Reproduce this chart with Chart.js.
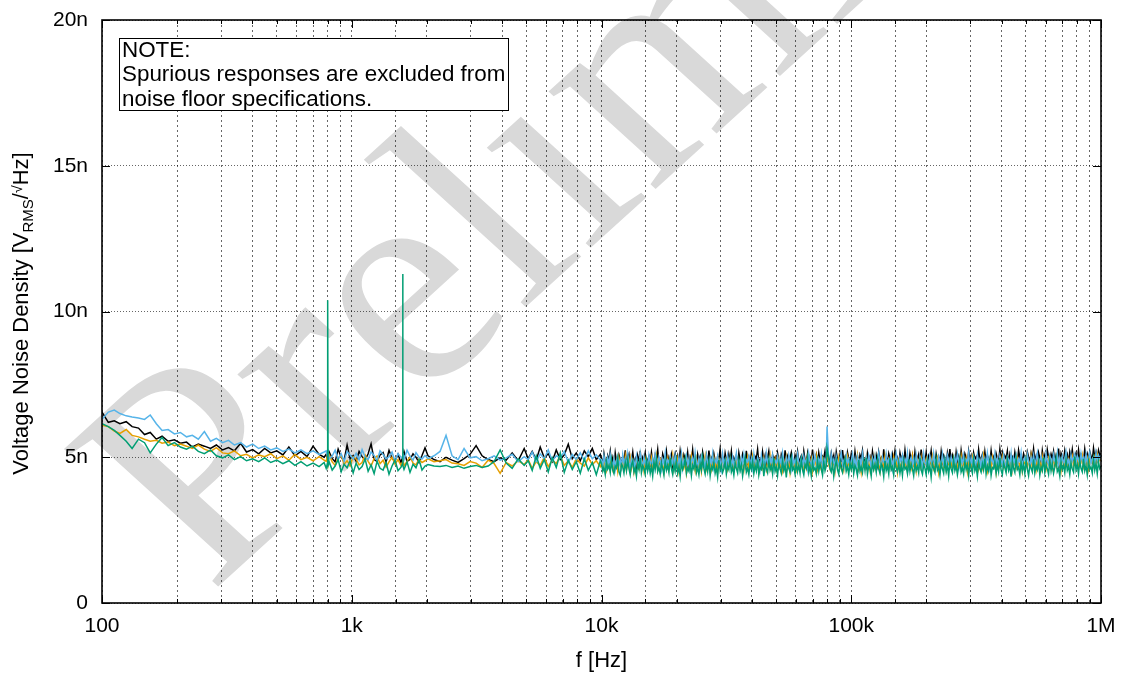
<!DOCTYPE html>
<html><head><meta charset="utf-8">
<script src="https://cdn.jsdelivr.net/npm/chart.js@4.4.1/dist/chart.umd.min.js"></script>
<style>html,body{margin:0;padding:0;background:#fff}#wrap{width:1123px;height:674px}</style>
</head><body><div id="wrap"><canvas id="c" width="1123" height="674"></canvas></div>
<script>
// Frequencies [Hz]
const FREQ = [
 // 100 Hz - 800 Hz
 100,106,112,118,125,132,140,148,156,165,174,184,195,206,218,230,243,257,272,287,
 304,321,339,359,379,401,424,448,474,501,530,560,592,626,662,700,740,775,
 // 800 Hz - 2 kHz
 790,798,801,804,812,835,858,882,907,932,958,985,1013,1041,1070,1100,1131,1163,1195,1229,
 1263,1298,1335,1372,1410,1450,1490,1532,1575,1597,1600,1603,1619,1665,1711,1759,1808,1859,1911,1965,
 // 2 kHz - 10 kHz
 2020,2135,2257,2385,2521,2665,2817,2977,3147,3326,3516,3716,3928,4152,4389,4639,4903,
 5088,5279,5478,5684,5898,6120,6350,6589,6837,7094,7361,7638,7925,8223,8533,8854,9187,9532,9891,
 // 10 kHz - 100 kHz
 10000,10120,10230,10350,10470,10590,10720,10840,10960,11090,11220,11350,11480,11610,11750,11890,12020,12160,12300,12450,
 12590,12740,12880,13030,13180,13340,13490,13650,13800,13960,14130,14290,14450,14620,14790,14960,15140,15310,15490,15670,
 15850,16030,16220,16410,16600,16790,16980,17180,17380,17580,17780,17990,18200,18410,18620,18840,19050,19280,19500,19720,
 19950,20180,20420,20650,20890,21130,21380,21630,21880,22130,22390,22650,22910,23170,23440,23710,23990,24270,24550,24830,
 25120,25410,25700,26000,26300,26610,26920,27230,27540,27860,28180,28510,28840,29170,29510,29850,30200,30550,30900,31260,
 31620,31990,32360,32730,33110,33500,33880,34280,34670,35080,35480,35890,36310,36730,37150,37580,38020,38460,38900,39360,
 39810,40270,40740,41210,41690,42170,42660,43150,43650,44160,44670,45190,45710,46240,46770,47320,47860,48420,48980,49550,
 50120,50700,51290,51880,52480,53090,53700,54330,54950,55590,56230,56890,57540,58210,58880,59570,60260,60950,61660,62370,
 63100,63830,64570,65310,66070,66830,67610,68390,69180,69980,70790,71610,72440,73280,74130,74990,75860,76740,77620,78520,
 79430,80000,81280,82220,83180,84140,85110,86100,87100,88100,89130,90160,91200,92260,93330,94410,95500,96610,97720,98860,
 // 100 kHz - 1 MHz
 100000,101200,102300,103500,104700,105900,107200,108400,109600,110900,112200,113500,114800,116100,117500,118900,120200,121600,123000,124500,
 125900,127400,128800,130300,131800,133400,134900,136500,138000,139600,141300,142900,144500,146200,147900,149600,151400,153100,154900,156700,
 158500,160300,162200,164100,166000,167900,169800,171800,173800,175800,177800,179900,182000,184100,186200,188400,190500,192800,195000,197200,
 199500,201800,204200,206500,208900,211300,213800,216300,218800,221300,223900,226500,229100,231700,234400,237100,239900,242700,245500,248300,
 251200,254100,257000,260000,263000,266100,269200,272300,275400,278600,281800,285100,288400,291700,295100,298500,302000,305500,309000,312600,
 316200,319900,323600,327300,331100,335000,338800,342800,346700,350800,354800,358900,363100,367300,371500,375800,380200,384600,389000,393600,
 398100,402700,407400,412100,416900,421700,426600,431500,436500,441600,446700,451900,457100,462400,467700,473200,478600,484200,489800,495500,
 501200,507000,512900,518800,524800,530900,537000,543300,549500,555900,562300,568900,575400,582100,588800,595700,602600,609500,616600,623700,
 631000,638300,645700,653100,660700,668300,676100,683900,691800,699800,707900,716100,724400,732800,741300,749900,758600,767400,776200,785200,
 794300,803500,812800,822200,831800,841400,851100,861000,871000,881000,891300,901600,912000,922600,933300,944100,955000,966100,977200,988600,
 1000000
];

// Noise density [nV/sqrt(Hz)]
const BLACK = [
 6.55,6.20,6.25,6.15,6.22,6.05,6.00,5.78,5.85,5.62,5.72,5.55,5.60,5.48,5.52,5.35,5.45,5.38,5.30,5.42,
 5.25,5.33,5.22,5.48,5.18,5.26,5.12,5.30,5.15,5.22,5.08,5.35,5.05,5.20,5.02,5.38,5.10,5.00,
 5.10,4.92,5.02,4.88,5.18,4.96,4.84,5.28,5.00,4.90,5.42,4.94,5.06,4.86,5.20,5.02,4.90,5.12,5.46,4.92,
 4.86,5.08,5.16,4.84,5.24,4.96,4.88,5.10,4.80,5.02,4.98,4.94,5.20,4.86,4.92,5.12,5.00,4.82,5.06,5.32,
 5.05,4.92,4.85,5.00,4.90,4.82,4.95,5.10,5.40,5.05,4.92,4.85,4.98,4.90,5.15,4.88,5.30,
 4.95,5.20,4.90,5.35,4.98,5.12,4.85,5.25,4.92,5.08,5.45,4.95,5.15,4.88,5.22,5.02,5.30,4.92,5.10,
 4.95,4.72,5.12,4.84,4.68,5.05,4.90,5.20,4.78,4.98,4.66,5.15,4.86,4.74,5.08,4.92,4.70,5.02,4.82,5.24,
 4.76,4.96,5.10,4.69,4.88,5.18,4.80,4.94,4.64,5.06,4.85,5.22,4.73,4.99,4.87,5.14,4.71,4.91,5.03,4.79,
 5.16,4.83,4.70,5.07,4.93,5.26,4.77,4.89,4.67,5.11,4.95,4.81,5.19,4.74,5.00,4.86,5.09,4.69,4.97,5.13,
 4.82,5.04,4.75,5.21,4.90,4.68,5.08,4.94,4.79,5.16,4.72,5.01,4.87,5.25,4.78,4.96,4.65,5.10,4.89,5.03,
 4.73,5.17,4.92,4.80,5.06,4.70,5.23,4.85,4.97,4.76,5.12,4.88,4.67,5.02,4.93,5.28,4.81,4.99,4.74,5.14,
 4.91,4.77,5.09,4.84,5.20,4.71,4.98,4.86,5.05,4.66,5.15,4.90,4.79,5.11,4.95,4.73,5.22,4.83,5.00,4.75,
 5.13,4.88,4.69,5.03,4.94,5.27,4.78,4.92,4.70,5.18,4.85,5.06,4.76,4.98,5.21,4.82,4.67,5.08,4.93,5.01,
 4.80,5.14,4.89,4.72,5.10,4.96,4.68,5.24,4.84,5.02,4.75,4.97,5.16,4.87,4.71,5.07,4.91,5.19,4.79,4.95,
 5.05,4.74,5.20,4.90,4.82,5.12,4.69,5.00,4.86,5.26,4.77,4.94,5.09,4.73,5.15,4.88,4.80,5.03,4.96,5.22,
 4.85,5.40,4.99,4.76,5.13,4.89,5.06,4.70,5.18,4.92,4.81,5.10,4.74,5.25,4.87,5.01,4.72,5.16,4.95,4.83,
 5.11,4.90,4.73,5.19,4.84,5.04,4.67,5.08,4.96,5.23,4.79,4.93,4.71,5.14,4.88,5.02,4.76,5.20,4.91,4.82,
 5.06,4.75,5.17,4.89,4.98,4.70,5.27,4.85,5.03,4.78,5.12,4.94,4.68,5.09,4.87,5.21,4.80,4.97,4.74,5.15,
 4.92,5.05,4.77,5.24,4.86,4.99,4.72,5.13,4.90,5.07,4.69,5.18,4.83,4.95,5.10,4.76,5.26,4.88,5.00,4.81,
 5.16,4.74,5.04,4.91,5.22,4.79,4.96,4.67,5.11,4.87,5.01,4.73,5.19,4.85,5.06,4.93,4.70,5.14,4.89,5.28,
 4.80,5.08,4.95,4.71,5.17,4.86,5.03,4.76,5.23,4.90,4.82,5.12,4.98,4.69,5.20,4.88,5.05,4.78,5.15,4.94,
 5.02,4.75,5.25,4.89,4.97,5.10,4.72,5.18,4.84,5.06,4.93,4.79,5.22,4.87,5.00,4.74,5.13,4.96,4.83,5.27,
 4.90,5.14,4.78,5.05,4.95,5.21,4.73,5.09,4.88,5.00,4.81,5.17,4.92,4.76,5.24,4.99,5.07,4.85,5.12,4.97,
 4.84,5.19,5.02,4.77,5.13,4.93,5.29,4.86,5.04,4.80,5.16,4.98,4.75,5.22,4.91,5.08,4.83,5.26,5.00,4.89,
 5.11,4.95,5.20,4.82,5.06,4.90,5.30,4.79,5.14,5.01,4.87,5.23,4.94,5.09,4.81,5.18,4.97,5.27,4.88,5.05,
 5.15,4.92,5.25,4.86,5.10,5.02,4.84,5.28,4.96,5.12,4.90,5.20,5.04,4.87,5.31,4.99,5.17,4.93,5.24,5.06,
 5.14
];
const ORANGE = [
 6.10,6.05,5.90,5.82,5.95,5.75,5.70,5.62,5.55,5.58,5.48,5.52,5.40,5.45,5.38,5.30,5.42,5.28,5.20,5.33,
 5.15,5.12,5.22,5.05,5.10,4.98,5.08,5.02,5.12,4.95,5.05,4.90,5.10,4.92,5.00,4.88,5.02,4.90,
 4.86,5.04,4.92,4.78,5.08,4.84,4.72,4.98,5.06,4.76,4.88,4.70,5.02,4.94,4.74,4.82,5.08,4.86,4.70,4.96,
 5.04,4.78,4.90,4.66,4.84,5.00,4.76,4.92,4.72,4.84,4.88,4.96,4.70,4.86,5.02,4.80,4.74,4.94,4.82,4.88,
 4.95,4.85,4.88,4.92,4.80,4.78,4.72,4.85,4.80,4.65,4.90,4.78,4.45,4.82,4.70,4.88,4.75,
 4.92,4.62,4.85,4.72,5.00,4.68,4.90,4.78,5.05,4.72,4.88,4.65,4.95,4.80,4.70,4.98,4.75,4.88,4.68,
 4.80,4.62,4.95,4.71,4.55,4.88,4.67,5.00,4.76,4.58,4.90,4.64,4.83,4.52,4.97,4.73,4.61,4.86,4.69,5.03,
 4.57,4.81,4.74,4.99,4.63,4.87,4.50,4.78,4.92,4.66,4.59,5.05,4.72,4.84,4.54,4.93,4.70,4.62,4.89,4.76,
 4.98,4.60,4.82,4.68,5.02,4.56,4.79,4.91,4.65,4.73,4.49,4.87,4.75,4.96,4.61,4.84,4.70,5.06,4.58,4.80,
 4.67,4.94,4.53,4.85,4.72,4.99,4.63,4.78,4.46,4.90,4.77,4.60,5.01,4.69,4.83,4.55,4.95,4.74,4.64,4.88,
 4.51,4.86,4.76,5.04,4.62,4.81,4.70,4.93,4.57,4.75,4.97,4.66,4.84,4.48,4.91,4.73,4.60,5.00,4.79,4.68,
 4.89,4.59,4.77,4.95,4.64,4.85,4.52,4.72,5.03,4.68,4.82,4.61,4.94,4.76,4.55,4.87,4.71,4.99,4.63,4.80,
 4.74,5.02,4.58,4.83,4.69,4.92,4.50,4.78,4.88,4.65,4.96,4.73,4.56,4.86,4.75,5.05,4.62,4.81,4.70,4.93,
 4.60,4.84,4.97,4.67,4.79,4.54,4.90,4.72,5.00,4.63,4.85,4.47,4.77,4.94,4.68,4.82,4.59,4.98,4.74,4.66,
 4.91,4.71,4.57,4.87,4.64,5.01,4.78,4.69,4.93,4.53,4.83,4.76,5.04,4.61,4.88,4.72,4.58,4.95,4.80,4.67,
 4.85,5.00,4.75,4.60,4.96,4.73,4.84,4.51,4.89,4.70,4.99,4.64,4.81,4.77,4.56,4.92,4.68,5.02,4.74,4.62,
 4.79,4.93,4.57,4.86,4.72,5.06,4.65,4.82,4.49,4.90,4.75,4.63,4.98,4.70,4.84,4.55,4.94,4.78,4.61,5.01,
 4.68,4.87,4.74,4.52,4.96,4.80,4.66,5.03,4.71,4.85,4.59,4.92,4.77,4.64,5.00,4.73,4.83,4.48,4.89,4.76,
 4.62,4.99,4.81,4.69,4.93,4.56,4.78,4.87,4.65,5.05,4.72,4.84,4.53,4.91,4.75,4.67,4.97,4.60,4.86,4.79,
 4.95,4.70,4.58,4.88,4.76,5.02,4.63,4.82,4.71,4.94,4.50,4.85,4.74,4.99,4.66,4.80,4.57,4.92,4.77,4.69,
 4.87,4.61,4.97,4.73,4.84,4.55,4.90,4.79,5.04,4.64,4.81,4.70,4.95,4.52,4.86,4.75,4.62,5.00,4.78,4.68,
 4.83,4.96,4.59,4.77,4.91,4.66,5.06,4.72,4.85,4.54,4.89,4.76,4.63,4.98,4.71,4.82,4.49,4.93,4.80,4.65,
 4.74,5.01,4.68,4.86,4.60,4.94,4.79,4.71,5.03,4.57,4.88,4.75,4.64,4.97,4.82,4.69,4.92,4.53,4.84,4.78,
 4.99,4.66,4.83,4.73,5.05,4.61,4.87,4.77,4.56,4.95,4.72,4.85,4.62,5.02,4.76,4.90,4.59,4.81,4.97,4.70,
 4.85,4.63,4.93,4.78,4.68,5.06,4.74,4.88,4.55,4.96,4.82,4.67,5.00,4.73,4.91,4.60,4.86,5.04,4.71,4.89,
 4.77,4.98,4.65,4.90,4.83,5.07,4.69,4.87,4.75,4.95,4.62,5.03,4.80,4.92,4.72,4.99,4.78,5.08,4.84,4.94,
 4.88
];
const BLUE = [
 6.30,6.55,6.62,6.50,6.42,6.38,6.35,6.30,6.45,6.15,5.92,5.95,5.80,5.85,5.70,5.75,5.62,5.88,5.55,5.65,
 5.50,5.58,5.42,5.50,5.35,5.45,5.30,5.38,5.25,5.32,5.20,5.28,5.15,5.25,5.12,5.22,5.10,5.18,
 5.22,5.06,4.98,5.16,4.94,5.04,5.24,4.92,5.12,4.86,5.20,5.08,4.94,5.14,4.90,5.26,5.00,4.92,5.18,5.06,
 4.88,5.22,5.10,4.94,5.02,5.18,4.86,5.12,5.00,4.96,5.08,5.14,4.92,5.24,5.04,4.90,5.16,5.00,4.94,5.06,
 4.95,5.05,5.20,5.75,5.05,4.92,5.30,4.98,5.02,4.88,4.95,5.05,4.90,4.98,5.10,4.85,5.02,
 4.92,5.18,4.85,5.12,4.95,5.25,4.88,5.05,4.98,5.20,4.82,5.10,4.92,5.15,4.88,5.22,4.95,5.08,4.90,
 4.92,4.70,5.05,4.81,4.64,4.98,4.76,5.10,4.85,4.68,4.95,4.60,4.88,5.02,4.73,4.90,4.66,5.08,4.79,4.94,
 4.69,5.12,4.83,4.62,4.97,4.75,4.89,4.58,5.04,4.80,4.71,5.14,4.86,4.65,4.99,4.77,4.92,4.61,5.06,4.84,
 4.74,4.96,4.63,5.09,4.82,4.70,5.01,4.87,4.59,4.93,4.78,5.13,4.67,4.90,4.81,5.03,4.72,4.95,4.64,5.07,
 4.85,4.68,4.99,4.76,5.11,4.62,4.91,4.80,5.05,4.71,4.94,4.57,4.88,5.00,4.74,5.16,4.83,4.66,4.97,4.79,
 5.02,4.73,4.89,4.60,5.08,4.84,4.69,4.96,4.77,5.12,4.65,4.92,4.82,5.04,4.70,4.87,4.58,5.10,4.78,4.93,
 4.67,5.06,4.81,4.94,4.63,5.00,4.75,4.90,5.14,4.72,4.86,4.61,4.98,4.79,5.09,4.68,4.91,4.84,5.03,4.74,
 4.95,4.64,5.11,4.80,4.70,4.99,4.87,4.59,5.05,4.76,4.93,4.66,5.13,4.83,4.71,4.97,4.78,5.07,4.62,4.89,
 4.81,5.02,4.68,4.94,4.75,5.15,4.85,4.63,4.96,4.72,5.08,4.88,4.60,5.01,4.77,4.92,4.69,5.10,4.82,4.73,
 4.98,4.65,5.04,4.79,4.90,4.61,5.12,4.84,4.74,4.97,4.67,5.06,4.86,4.70,4.95,4.80,5.11,4.63,4.91,4.76,
 5.00,6.05,4.85,4.66,5.09,4.78,4.93,4.62,5.03,4.82,4.71,4.96,5.14,4.75,4.88,4.64,5.05,4.80,4.94,4.69,
 4.87,5.10,4.73,4.95,4.60,5.02,4.81,4.92,4.67,5.13,4.84,4.76,4.99,4.70,5.07,4.89,4.63,4.97,4.78,5.04,
 4.72,4.91,5.15,4.80,4.65,5.01,4.86,4.74,5.09,4.68,4.94,4.83,5.05,4.61,4.90,4.77,5.12,4.85,4.71,4.98,
 4.83,5.06,4.69,4.93,4.79,5.14,4.64,4.88,5.00,4.75,4.96,4.62,5.08,4.82,4.72,5.03,4.90,4.66,5.11,4.81,
 4.76,4.97,4.60,5.05,4.86,4.73,5.13,4.80,4.92,4.67,5.02,4.85,4.70,5.10,4.78,4.95,4.64,5.07,4.89,4.74,
 5.01,4.82,4.68,4.99,4.77,5.12,4.87,4.63,4.94,4.80,5.06,4.71,4.91,4.84,5.15,4.66,4.98,4.75,5.03,4.86,
 4.70,5.09,4.81,4.93,4.65,5.04,4.78,4.96,4.72,5.14,4.85,4.62,5.00,4.88,4.74,5.11,4.79,4.95,4.67,5.06,
 4.90,4.73,5.08,4.83,4.69,5.02,4.92,4.76,5.13,4.64,4.97,4.81,5.05,4.71,4.94,4.86,5.16,4.68,4.89,5.00,
 4.77,5.10,4.84,4.66,4.99,4.80,5.07,4.73,4.93,5.15,4.70,4.88,5.03,4.79,4.96,4.63,5.12,4.85,4.75,5.06,
 4.91,4.72,5.09,4.87,4.78,5.14,4.69,4.98,4.82,5.04,4.76,4.94,5.18,4.80,4.90,4.67,5.08,4.86,4.97,5.11,
 4.79,5.05,4.92,4.74,5.13,4.88,4.99,4.71,5.10,4.84,4.96,5.17,4.78,4.93,5.02,4.76,5.15,4.89,5.07,4.95,
 5.08
];
const GREEN = [
 6.15,6.05,5.92,5.75,5.55,5.30,5.62,5.50,5.15,5.45,5.68,5.40,5.50,5.35,5.28,5.38,5.20,5.12,5.25,5.05,
 4.98,5.08,4.92,5.02,4.88,4.95,4.85,4.98,4.82,4.90,4.78,4.88,4.72,4.85,4.70,4.80,4.68,4.82,
 4.62,4.78,10.39,4.72,4.84,4.56,4.70,4.92,4.50,4.76,4.64,4.88,4.46,4.80,4.58,4.68,4.94,4.52,4.74,4.44,
 4.86,4.62,4.56,4.82,4.42,4.70,4.90,4.54,4.66,4.78,11.29,4.72,4.58,4.84,4.48,4.76,4.64,4.92,4.56,4.70,
 4.75,4.70,4.68,4.72,4.65,4.70,4.62,4.68,4.72,4.65,4.70,4.85,5.25,4.80,4.62,4.95,4.72,
 4.88,4.55,5.05,4.62,4.92,4.50,4.98,4.65,5.15,4.48,4.90,4.58,4.85,4.45,4.95,4.55,4.82,4.40,4.88,
 4.78,4.52,4.66,4.41,4.85,4.60,4.72,4.48,4.90,4.57,4.44,4.70,4.63,4.95,4.50,4.38,4.76,4.68,4.46,4.82,
 4.55,4.92,4.61,4.40,4.74,4.87,4.49,4.64,4.35,4.80,4.58,4.97,4.47,4.71,4.62,4.42,4.88,4.54,4.77,4.45,
 4.69,4.36,4.83,4.59,4.93,4.51,4.66,4.43,4.79,4.62,4.39,4.86,4.56,4.73,4.48,4.98,4.60,4.41,4.75,4.53,
 4.88,4.46,4.67,4.34,4.81,4.58,4.70,4.95,4.44,4.63,4.52,4.84,4.38,4.72,4.60,4.91,4.47,4.65,4.40,4.78,
 4.56,4.99,4.62,4.43,4.76,4.51,4.87,4.37,4.69,4.58,4.82,4.45,4.64,4.32,4.90,4.55,4.73,4.48,4.61,4.85,
 4.42,4.70,4.57,4.94,4.50,4.66,4.39,4.80,4.62,4.46,4.88,4.54,4.74,4.36,4.68,4.97,4.49,4.63,4.41,4.79,
 4.59,4.86,4.44,4.71,4.53,4.92,4.40,4.65,4.58,4.83,4.35,4.76,4.61,4.47,4.89,4.56,4.70,4.43,4.96,4.52,
 4.67,4.38,4.81,4.60,4.45,4.87,4.55,4.73,4.31,4.78,4.62,4.49,4.93,4.57,4.66,4.42,4.84,4.51,4.72,4.46,
 4.90,4.58,4.40,4.75,4.63,4.98,4.48,4.69,4.37,4.82,4.56,4.64,4.44,4.88,4.52,4.77,4.60,4.39,4.85,4.54,
 4.70,5.30,4.95,4.61,4.50,4.79,4.35,4.67,4.88,4.57,4.42,4.86,4.62,4.48,4.74,4.94,4.53,4.68,4.41,4.80,
 4.58,4.83,4.44,4.72,4.61,4.39,4.90,4.53,4.67,4.47,4.86,4.55,4.98,4.42,4.70,4.63,4.36,4.81,4.57,4.75,
 4.49,4.92,4.60,4.45,4.77,4.65,4.34,4.88,4.54,4.71,4.43,4.96,4.58,4.68,4.40,4.84,4.62,4.50,4.79,4.46,
 4.73,4.38,4.87,4.59,4.66,4.44,4.93,4.52,4.76,4.60,4.37,4.82,4.55,4.69,4.47,4.99,4.57,4.42,4.74,4.63,
 4.41,4.85,4.53,4.70,4.32,4.78,4.62,4.48,4.94,4.56,4.67,4.39,4.80,4.61,4.45,4.89,4.51,4.73,4.36,4.84,
 4.60,4.47,4.91,4.55,4.72,4.40,4.68,4.97,4.50,4.64,4.43,4.86,4.58,4.75,4.37,4.81,4.63,4.46,4.92,4.54,
 4.69,4.35,4.83,4.61,4.49,4.77,4.57,4.95,4.42,4.70,4.53,4.88,4.38,4.65,4.60,4.84,4.45,4.74,4.51,4.98,
 4.56,4.41,4.79,4.64,4.47,4.90,4.55,4.71,4.33,4.86,4.62,4.48,4.96,4.58,4.67,4.40,4.82,4.52,4.76,4.44,
 4.89,4.59,4.37,4.73,4.63,4.50,4.93,4.46,4.70,4.57,4.85,4.39,4.68,4.54,4.99,4.48,4.75,4.61,4.42,4.87,
 4.53,4.78,4.45,4.66,4.96,4.51,4.62,4.36,4.84,4.58,4.72,4.47,4.91,4.55,4.69,4.41,4.81,4.60,4.49,5.02,
 4.57,4.74,4.43,4.88,4.62,4.50,4.95,4.54,4.71,4.40,4.86,4.59,4.67,4.46,4.92,4.56,4.78,4.44,4.85,4.61,
 4.70
];

// drawn bottom (black) to top (green)
const SERIES = [
  {name:'black',  color:'#000000', values:BLACK,  layer:3},
  {name:'orange', color:'#E69F00', values:ORANGE, layer:2},
  {name:'blue',   color:'#56B4E9', values:BLUE,   layer:1},
  {name:'green',  color:'#009E73', values:GREEN,  layer:0}
];
const X_TICK_LABELS = {100:'100',1000:'1k',10000:'10k',100000:'100k',1000000:'1M'};
const Y_TICKS = [0,5,10,15,20];
const Y_TICK_LABELS = ['0','5n','10n','15n','20n'];
const NOTE_LINES = ['NOTE:','Spurious responses are excluded from','noise floor specifications.'];
const WATERMARK = 'Preliminary';

const SANS = '"Liberation Sans", Arial, Helvetica, sans-serif';

const watermarkPlugin = {
  id:'watermark',
  beforeDraw(chart){
    const ctx = chart.ctx;
    ctx.save();
    ctx.translate(210, 594);
    ctx.scale(1.1, 1);
    ctx.rotate(-45*Math.PI/180);
    ctx.font = '300px "Liberation Serif", "DejaVu Serif", serif';
    ctx.fillStyle = '#d9d9d9';
    ctx.textBaseline = 'alphabetic';
    ctx.fillText(WATERMARK, 0, 0);
    ctx.restore();
  }
};

const framePlugin = {
  id:'frame',
  afterDatasetsDraw(chart){
    const {ctx, chartArea:a, scales} = chart;
    ctx.save();
    ctx.strokeStyle = '#000';
    ctx.lineWidth = 1;
    scales.x.ticks.forEach(t=>{
      const px = Math.round(scales.x.getPixelForValue(t.value))+0.5;
      const major = X_TICK_LABELS[t.value] !== undefined;
      const len = major ? 8 : 4;
      ctx.beginPath();
      ctx.moveTo(px, a.bottom); ctx.lineTo(px, a.bottom-len);
      ctx.moveTo(px, a.top); ctx.lineTo(px, a.top+len);
      ctx.stroke();
    });
    Y_TICKS.forEach(v=>{
      const py = Math.round(scales.y.getPixelForValue(v))+0.5;
      ctx.beginPath();
      ctx.moveTo(a.left, py); ctx.lineTo(a.left+8, py);
      ctx.moveTo(a.right, py); ctx.lineTo(a.right-8, py);
      ctx.stroke();
    });
    ctx.lineWidth = 1.6;
    ctx.strokeRect(a.left, a.top, a.right-a.left, a.bottom-a.top);
    ctx.restore();
  },
  afterDraw(chart){
    const {ctx, chartArea:a} = chart;
    ctx.save();
    const bx = a.left+17, by = a.top+18, bw = 389, bh = 72;
    ctx.fillStyle = '#fff';
    ctx.fillRect(bx, by, bw, bh);
    ctx.strokeStyle = '#000'; ctx.lineWidth = 1;
    ctx.strokeRect(bx+0.5, by+0.5, bw, bh);
    ctx.fillStyle = '#000';
    ctx.font = '22.4px ' + SANS;
    ctx.textBaseline = 'alphabetic';
    NOTE_LINES.forEach((l,i)=>ctx.fillText(l, bx+3, by+18.5+i*24.5));
    ctx.textAlign = 'center';
    ctx.font = '22px ' + SANS;
    ctx.fillText('f [Hz]', (a.left+a.right)/2, 667);
    ctx.save();
    ctx.translate(28, (a.top+a.bottom)/2 + 2);
    ctx.rotate(-Math.PI/2);
    const parts = [
      {t:'Voltage Noise Density [V', f:'22px', dy:0},
      {t:'RMS', f:'15px', dy:5},
      {t:'/', f:'22px', dy:0},
      {t:'\u221A', f:'14px', dy:-6},
      {t:'Hz]', f:'22px', dy:0}
    ];
    let total = 0;
    parts.forEach(p=>{ctx.font = p.f+' '+SANS; p.w = ctx.measureText(p.t).width; total += p.w;});
    let x = -total/2;
    ctx.textAlign = 'left';
    parts.forEach(p=>{ctx.font = p.f+' '+SANS; ctx.fillText(p.t, x, p.dy); x += p.w;});
    ctx.restore();
    ctx.restore();
  }
};

new Chart(document.getElementById('c'), {
  type:'line',
  data:{
    datasets: SERIES.map(s=>({
      label:s.name,
      data: FREQ.map((f,i)=>({x:f, y:s.values[i]})),
      borderColor:s.color,
      borderWidth:1.5,
      pointRadius:0,
      tension:0,
      fill:false,
      order:s.layer
    }))
  },
  options:{
    responsive:false,
    animation:false,
    devicePixelRatio:1,
    layout:{padding:{left:0, right:22, top:20, bottom:0}},
    plugins:{legend:{display:false}, tooltip:{enabled:false}},
    scales:{
      x:{
        type:'logarithmic', min:100, max:1000000,
        afterFit(s){ s.height = 71; s.paddingLeft = 0; s.paddingRight = 0; },
        grid:{color:'rgba(0,0,0,0.6)', lineWidth:1, drawTicks:false},
        border:{display:false, dash:[2,3]},
        ticks:{
          autoSkip:false, maxRotation:0, padding:11,
          color:'#000', font:{family:SANS, size:21},
          callback:(v)=> X_TICK_LABELS[v] !== undefined ? X_TICK_LABELS[v] : ''
        }
      },
      y:{
        type:'linear', min:0, max:20,
        afterFit(s){ s.width = 102; s.paddingTop = 0; s.paddingBottom = 0; },
        afterBuildTicks(s){ s.ticks = Y_TICKS.map(v=>({value:v})); },
        grid:{color:'rgba(0,0,0,0.6)', lineWidth:1, drawTicks:false},
        border:{display:false, dash:[1,2]},
        ticks:{
          padding:14, color:'#000', font:{family:SANS, size:21},
          callback:(v)=> Y_TICK_LABELS[Y_TICKS.indexOf(v)]
        }
      }
    }
  },
  plugins:[watermarkPlugin, framePlugin]
});
</script>
</body></html>
